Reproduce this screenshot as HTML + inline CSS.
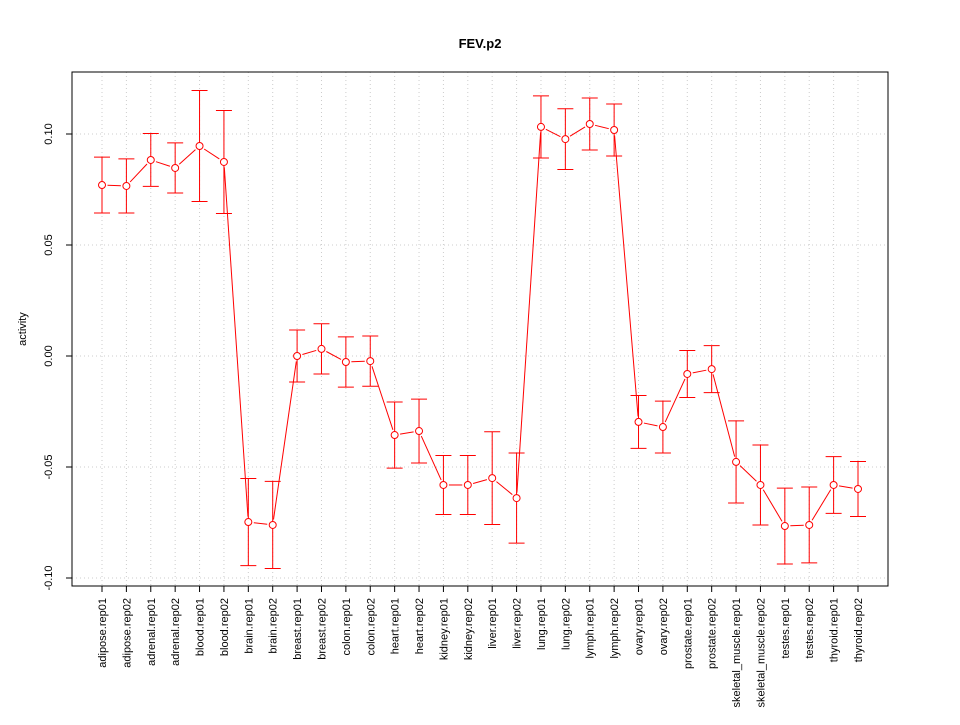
<!DOCTYPE html>
<html><head><meta charset="utf-8"><style>
body{margin:0;background:#fff;}
svg text{font-family:"Liberation Sans",sans-serif;}
</style></head><body>
<svg id="chart" width="960" height="720" xmlns="http://www.w3.org/2000/svg">
<rect width="960" height="720" fill="#fff"/>
<text x="480" y="48" text-anchor="middle" font-size="13" font-weight="bold">FEV.p2</text>
<text transform="translate(26,329) rotate(-90)" text-anchor="middle" font-size="11">activity</text>
<g id="grid"></g><g id="axes"></g><g id="marks"></g>
</svg>
<script>
const categories=["adipose.rep01","adipose.rep02","adrenal.rep01","adrenal.rep02","blood.rep01","blood.rep02","brain.rep01","brain.rep02","breast.rep01","breast.rep02","colon.rep01","colon.rep02","heart.rep01","heart.rep02","kidney.rep01","kidney.rep02","liver.rep01","liver.rep02","lung.rep01","lung.rep02","lymph.rep01","lymph.rep02","ovary.rep01","ovary.rep02","prostate.rep01","prostate.rep02","skeletal_muscle.rep01","skeletal_muscle.rep02","testes.rep01","testes.rep02","thyroid.rep01","thyroid.rep02"];
const activity=[0.0770,0.0766,0.0883,0.0847,0.0946,0.0874,-0.0748,-0.0761,0.0000,0.0032,-0.0027,-0.0023,-0.0356,-0.0338,-0.0581,-0.0581,-0.0550,-0.0640,0.1032,0.0977,0.1045,0.1018,-0.0297,-0.0320,-0.0081,-0.0059,-0.0477,-0.0581,-0.0766,-0.0761,-0.0581,-0.0599];
const errors=[0.0126,0.0122,0.0119,0.0113,0.0250,0.0232,0.0196,0.0196,0.0117,0.0113,0.0113,0.0113,0.0149,0.0144,0.0133,0.0133,0.0209,0.0203,0.0140,0.0137,0.0117,0.0117,0.0119,0.0117,0.0106,0.0106,0.0185,0.0180,0.0171,0.0171,0.0128,0.0124];
const yTicks=[-0.10,-0.05,0.00,0.05,0.10];
const yTickLabels=["-0.10","-0.05","0.00","0.05","0.10"];

const NS="http://www.w3.org/2000/svg";
const L=72,R=888,T=72,B=586;
const x=i=>102+i*(858-102)/(categories.length-1);
const y=v=>356-v*2220;
function mk(tag,attrs,parent){const e=document.createElementNS(NS,tag);for(const k in attrs)e.setAttribute(k,attrs[k]);parent.appendChild(e);return e;}
const grid=document.getElementById('grid'),axes=document.getElementById('axes'),marks=document.getElementById('marks');

categories.forEach((c,i)=>{
  const g=mk('line',{x1:x(i),x2:x(i),y1:T,y2:B,stroke:'#cccccc','stroke-dasharray':'1,3'},grid);
  
  
  const tk=mk('line',{x1:x(i),x2:x(i),y1:B,y2:B+6,stroke:'#000'},axes);
  
  
  const t=mk('text',{transform:`translate(${x(i)+4},${B+12}) rotate(-90)`,'text-anchor':'end','font-size':'11'},axes);
  t.textContent=c;
  
  
});
yTicks.forEach((v,i)=>{
  const g=mk('line',{x1:L,x2:R,y1:y(v),y2:y(v),stroke:'#cccccc','stroke-dasharray':'1,3'},grid);
  
  
  const tk=mk('line',{x1:L-6,x2:L,y1:y(v),y2:y(v),stroke:'#000'},axes);
  
  
  const t=mk('text',{transform:`translate(${L-20},${y(v)}) rotate(-90)`,'text-anchor':'middle','font-size':'11'},axes);
  t.textContent=yTickLabels[i];
  
  
});
const yax=mk('line',{x1:L,x2:L,y1:y(yTicks[0]),y2:y(yTicks[yTicks.length-1]),stroke:'#000'},axes);


const frame=mk('rect',{x:L,y:T,width:R-L,height:B-T,fill:'none',stroke:'#000'},axes);



const r=3.5;
for(let i=0;i<activity.length-1;i++){
  const x1=x(i),y1=y(activity[i]),x2=x(i+1),y2=y(activity[i+1]);
  const dx=x2-x1,dy=y2-y1,d=Math.hypot(dx,dy),g=r+2;
  if(d>2*g){
    const s=mk('line',{x1:x1+dx*g/d,y1:y1+dy*g/d,x2:x2-dx*g/d,y2:y2-dy*g/d,stroke:'#ff0000'},marks);
    
    
  }
}
activity.forEach((v,i)=>{
  const cx=x(i),hi=y(v+errors[i]),lo=y(v-errors[i]);
  const eb=mk('path',{d:`M${cx},${hi}V${lo}M${cx-8},${hi}H${cx+8}M${cx-8},${lo}H${cx+8}`,stroke:'#ff0000',fill:'none'},marks);
  
  
  const p=mk('circle',{cx:cx,cy:y(v),r:r,fill:'#fff',stroke:'#ff0000'},marks);
  
  
});
</script>
</body></html>
